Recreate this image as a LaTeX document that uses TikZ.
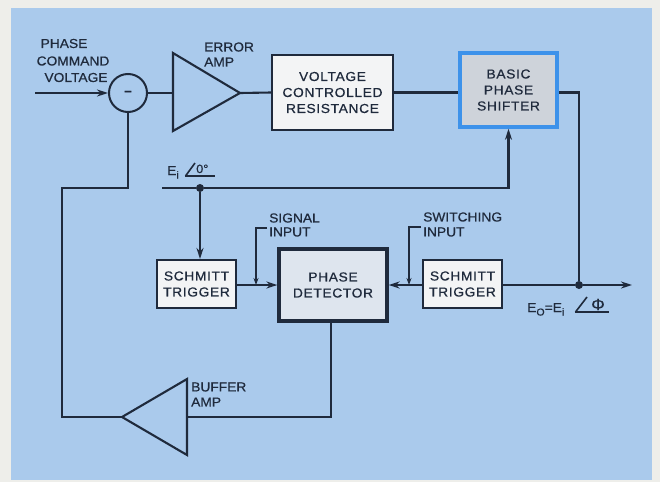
\documentclass[tikz,border=0pt]{standalone}
\usepackage{fontspec}
\setmainfont{Liberation Sans}[FakeStretch=1.06,FakeBold=0.6]
\newfontfamily\boxfont{Liberation Sans}[FakeStretch=1.06,FakeBold=0.6,LetterSpace=5]
\usetikzlibrary{arrows.meta}
\definecolor{outerbg}{HTML}{EEEEEA}
\definecolor{panel}{HTML}{AACAEC}
\definecolor{ink}{HTML}{1F2A3C}
\definecolor{boxfill}{HTML}{F3F4F5}
\definecolor{pdfill}{HTML}{DEE5EE}
\definecolor{bpsfill}{HTML}{CED3DA}
\definecolor{bpsedge}{HTML}{3D92EA}
\newcommand{\mysub}[1]{\raisebox{-3.5pt}{\fontsize{10}{12}\selectfont #1}}
\tikzset{
  blk/.style={draw=ink, line width=2.1pt, fill=boxfill, align=center, inner sep=0pt, text=ink,
    font=\boxfont\fontsize{13}{16}\selectfont},
  wire/.style={draw=ink, line width=2.1pt},
  arr/.style={-{Stealth[length=11pt,width=7pt]}},
  sarr/.style={-{Stealth[length=7pt,width=5pt]}},
  lbl/.style={text=ink, inner sep=0pt, align=left},
  dotn/.style={circle, fill=ink, inner sep=0pt, minimum size=8pt},
}
\begin{document}
\begin{tikzpicture}[x=1pt, y=-1pt, font=\fontsize{13}{16}\selectfont]
\useasboundingbox (0,0) rectangle (660,482);
\fill[outerbg] (0,0) rectangle (660,482);
\fill[panel] (11,8) rectangle (652,480);

% blocks
\node[blk, minimum width=121pt, minimum height=75pt] (vcr) at (332.5,92.5) {VOLTAGE\\CONTROLLED\\RESISTANCE};
\node[blk, fill=bpsfill, draw=bpsedge, line width=3.5pt, minimum width=97pt, minimum height=74pt] (bps) at (508.5,90) {BASIC\\PHASE\\SHIFTER};
\node[blk, minimum width=79pt, minimum height=48pt] (st1) at (196.5,284) {SCHMITT\\TRIGGER};
\node[blk, fill=pdfill, line width=3.3pt, minimum width=108pt, minimum height=72pt] (pd) at (333,285) {PHASE\\DETECTOR};
\node[blk, minimum width=79pt, minimum height=48pt] (st2) at (462.5,284) {SCHMITT\\TRIGGER};
\node[circle, draw=ink, line width=2pt, minimum size=38pt, inner sep=0pt, text=ink] (sub) at (128,93) {\textbf{--}};

% error amp triangle
\draw[wire, line join=miter] (173,53) -- (240,93) -- (173,131) -- cycle;
\coordinate (eain) at (173,93);
\coordinate (eaout) at (240,93);
% buffer amp triangle
\draw[wire, line join=miter] (187,379) -- (122,417) -- (187,455) -- cycle;
\coordinate (bufin) at (187,417);
\coordinate (bufout) at (122,417);

% connectors
\coordinate (pin) at (35,93);
\draw[wire, arr] (pin) -- (sub.west);
\draw[wire] (sub.east) -- (eain);
\draw[wire] (eaout) -- (vcr.west);
\draw[wire] (vcr.east) -- (vcr.east -| bps.west);
\node[dotn] (dout) at (579,285) {};
\draw[wire] (vcr.east -| bps.east) -| (dout);
\draw[wire] (st2.east |- dout) -- (dout);
\coordinate (oend) at (632,285);
\draw[wire, arr] (dout) -- (oend);
\draw[wire, arr] (st2.west |- pd.east) -- (pd.east);
\draw[wire, arr] (st1.east |- pd.west) -- (pd.west);

\coordinate (eistart) at (162,188);
\node[dotn] (eidot) at (200,188) {};
\draw[wire] (eistart) -- (eidot);
\draw[wire, arr] (eidot) -| (bps.south);
\draw[wire, arr] (eidot) -- (eidot |- st1.north);

\coordinate (sigtop) at (267,228);
\coordinate (sigcorner) at (256,228);
\draw[wire, line width=1.6pt, sarr] (sigtop) -- (sigcorner) -- (sigcorner |- pd.west);
\coordinate (swtop) at (421,227);
\coordinate (swcorner) at (409,227);
\draw[wire, line width=1.6pt, sarr] (swtop) -- (swcorner) -- (swcorner |- pd.east);

% feedback
\coordinate (fbc1) at (331,417);
\draw[wire] (pd.south -| fbc1) -- (fbc1) -- (bufin);
\coordinate (fbc2) at (62,417);
\coordinate (fbc3) at (62,188);
\draw[wire] (bufout) -- (fbc2) -- (fbc3) -- (fbc3 -| sub.south) -- (sub.south);

% labels
\node[lbl] (l1) at (64,43.5) {PHASE};
\node[lbl] (l2) at (73,61) {COMMAND};
\node[lbl] (l3) at (76,77.5) {VOLTAGE};
\node[lbl, anchor=west] (ea1) at (204,47) {ERROR};
\node[lbl, anchor=west] (ea2) at (204,62) {AMP};
\node[lbl, anchor=west] (ba1) at (191,387) {BUFFER};
\node[lbl, anchor=west] (ba2) at (191,402) {AMP};
\node[lbl, anchor=west] (si1) at (269,218) {SIGNAL};
\node[lbl, anchor=west] (si2) at (269,232) {INPUT};
\node[lbl, anchor=west] (sw1) at (423,217) {SWITCHING};
\node[lbl, anchor=west] (sw2) at (423,232) {INPUT};

% E_i angle 0
\node[lbl, anchor=base west] (ei) at (167,175) {E\mysub{i}};
\draw[ink, line width=1.6pt] (185,176) -- (215,176);
\draw[ink, line width=1.6pt] (185.5,176) -- (195,163);
\node[lbl, anchor=base west, font=\fontsize{12}{14}\selectfont] (ang0) at (196,173) {0°};

% E_O = E_i angle phi
\node[lbl, anchor=base west] (eo) at (527,312) {E\mysub{O}=E\mysub{i}};
\draw[ink, line width=1.6pt] (575,312) -- (609,312);
\draw[ink, line width=1.6pt] (575.5,312) -- (587,297);
\node[lbl, anchor=base, font=\fontsize{16}{18}\selectfont] (phi) at (598,310) {Φ};
\end{tikzpicture}
\end{document}
